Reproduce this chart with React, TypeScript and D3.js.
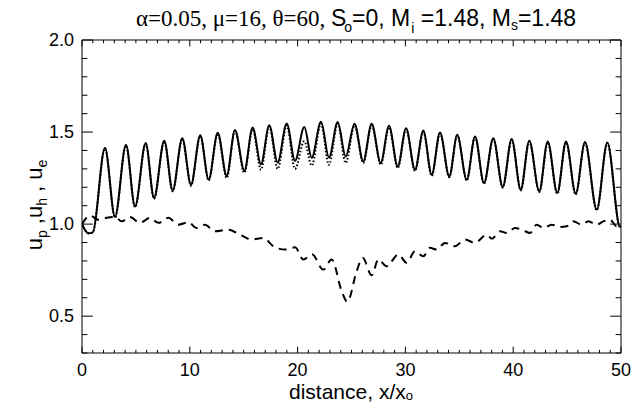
import React from 'react';
import * as d3 from 'd3';

const solidX = [0, 0.6, 1.0, 2.13, 3.06, 4.08, 4.92, 5.91, 6.68, 7.63, 8.41, 9.3, 10.11, 10.97, 11.75, 12.59, 13.42, 14.19, 15.06, 15.83, 16.6, 17.37, 18.15, 18.99, 19.76, 20.62, 21.31, 22.17, 22.91, 23.72, 24.46, 25.28, 26.09, 26.87, 27.71, 28.48, 29.29, 30.06, 30.89, 31.66, 32.44, 33.21, 34.07, 34.81, 35.69, 36.46, 37.29, 38.15, 39.03, 39.86, 40.7, 41.49, 42.42, 43.2, 44.09, 44.9, 45.8, 46.66, 47.75, 48.73, 49.91, 50];
const solidY = [1.0, 0.95, 0.955, 1.415, 1.039, 1.431, 1.096, 1.44, 1.142, 1.453, 1.182, 1.467, 1.214, 1.483, 1.242, 1.496, 1.263, 1.511, 1.29, 1.525, 1.325, 1.537, 1.335, 1.547, 1.344, 1.527, 1.36, 1.556, 1.362, 1.554, 1.367, 1.545, 1.34, 1.545, 1.332, 1.534, 1.313, 1.521, 1.295, 1.508, 1.268, 1.498, 1.259, 1.485, 1.241, 1.476, 1.223, 1.467, 1.202, 1.462, 1.187, 1.453, 1.178, 1.449, 1.169, 1.449, 1.165, 1.446, 1.079, 1.443, 0.985, 0.99];
const dottedY = [1.0, 0.95, 0.955, 1.41, 1.036, 1.426, 1.092, 1.436, 1.138, 1.449, 1.178, 1.462, 1.208, 1.478, 1.236, 1.49, 1.25, 1.505, 1.278, 1.515, 1.295, 1.53, 1.3, 1.535, 1.3, 1.45, 1.318, 1.545, 1.322, 1.545, 1.332, 1.535, 1.332, 1.535, 1.322, 1.525, 1.304, 1.515, 1.288, 1.5, 1.262, 1.492, 1.254, 1.48, 1.237, 1.471, 1.219, 1.462, 1.198, 1.457, 1.183, 1.448, 1.174, 1.444, 1.165, 1.444, 1.161, 1.441, 1.075, 1.44, 0.98, 0.99];
const dashedX = [0, 0.74, 1.51, 2.29, 3.06, 3.68, 4.45, 5.38, 6.31, 7.08, 8.01, 8.93, 9.86, 10.64, 11.41, 12.34, 13.57, 14.66, 15.74, 16.82, 17.75, 18.83, 19.76, 20.53, 21.34, 22.38, 23.16, 24.09, 24.61, 25.48, 26.04, 26.87, 27.49, 28.26, 29.34, 30.12, 30.89, 31.66, 32.28, 32.9, 33.67, 34.6, 35.53, 36.46, 37.54, 38.01, 38.78, 39.4, 40.17, 40.94, 41.56, 42.18, 42.79, 43.57, 44.34, 44.96, 45.58, 46.35, 46.97, 47.75, 48.36, 48.98, 49.6, 50];
const dashedY = [1.0, 1.046, 1.024, 1.034, 1.039, 1.015, 1.039, 1.007, 1.034, 1.007, 1.034, 0.997, 1.01, 0.979, 0.997, 0.961, 0.97, 0.943, 0.916, 0.925, 0.88, 0.862, 0.874, 0.808, 0.837, 0.753, 0.808, 0.636, 0.578, 0.744, 0.817, 0.722, 0.808, 0.771, 0.835, 0.79, 0.853, 0.825, 0.871, 0.862, 0.898, 0.88, 0.916, 0.898, 0.943, 0.92, 0.961, 0.952, 0.979, 0.966, 0.952, 0.997, 0.979, 0.997, 0.985, 0.988, 1.015, 0.997, 1.015, 0.997, 1.015, 1.024, 0.988, 0.997];
const xTickValues = [0, 10, 20, 30, 40, 50];
const yTickValues = [0.5, 1.0, 1.5, 2.0];

const SANS = "'Liberation Sans', Arial, Helvetica, sans-serif";
const SERIF = "'Liberation Serif', 'Times New Roman', serif";

export default function App() {
  const W = 643, H = 409;
  const x = d3.scaleLinear().domain([0, 50]).range([82, 621]);
  const y = d3.scaleLinear().domain([0.3, 2.0]).range([353, 40]);
  const [x0, x1] = x.range();
  const [yb, yt] = y.range();
  const line = d3.line<[number, number]>().x(d => x(d[0])).y(d => y(d[1])).curve(d3.curveMonotoneX);
  const solid = line(solidX.map((v, i) => [v, solidY[i]]) as [number, number][]) || '';
  const dotted = line(solidX.map((v, i) => [v, dottedY[i]]) as [number, number][]) || '';
  const dashed = line(dashedX.map((v, i) => [v, dashedY[i]]) as [number, number][]) || '';
  const xMinor = d3.range(0, 51, 1);
  const yMinor = d3.range(3, 21, 1).map(v => v / 10);
  const xMajLen = 6.3, xMinLen = 3.2, yMajLen = 10.8, yMinLen = 5.4;
  return (
    <svg width={W} height={H} style={{ position: 'absolute', left: 0, top: 0, background: '#fff' }}>
      <defs>
        <clipPath id="plotclip"><rect x={x0} y={yt} width={x1 - x0} height={yb - yt} /></clipPath>
      </defs>
      <rect x={0} y={0} width={W} height={H} fill="#fff" />
      {/* title */}
      <text x={356} y={26} textAnchor="middle" fontSize={23} fill="#000" fontFamily={SANS}>
        <tspan fontFamily={SERIF}>α=0.05, μ=16, θ=60, </tspan>
        <tspan>S</tspan>
        <tspan fontSize={14} dx={-2} dy={6}>o</tspan>
        <tspan dy={-6}>=0, M</tspan>
        <tspan fontSize={14} dx={1} dy={7}>i</tspan>
        <tspan dy={-7}> =1.48, M</tspan>
        <tspan fontSize={14} dy={4}>s</tspan>
        <tspan dy={-4}>=1.48</tspan>
      </text>
      {/* axes box */}
      <g stroke="#000" strokeWidth={1} fill="none">
        <line x1={x0} y1={yb} x2={x1} y2={yb} />
        <line x1={x0} y1={yt} x2={x1} y2={yt} />
        <line x1={x0} y1={yb} x2={x0} y2={yt} />
        <line x1={x1} y1={yb} x2={x1} y2={yt} />
        {xMinor.map(v => {
          const len = v % 10 === 0 ? xMajLen : xMinLen;
          return (
            <g key={'xt' + v}>
              <line x1={x(v)} x2={x(v)} y1={yb} y2={yb - len} />
              <line x1={x(v)} x2={x(v)} y1={yt} y2={yt + len} />
            </g>
          );
        })}
        {yMinor.map(v => {
          const len = Math.round(v * 10) % 5 === 0 ? yMajLen : yMinLen;
          return (
            <g key={'yt' + v}>
              <line x1={x0} x2={x0 + len} y1={y(v)} y2={y(v)} />
              <line x1={x1} x2={x1 - len} y1={y(v)} y2={y(v)} />
            </g>
          );
        })}
      </g>
      {/* tick labels */}
      <g fontFamily={SANS} fontSize={18} fill="#000">
        {xTickValues.map(v => (
          <text key={'xl' + v} x={x(v)} y={yb + 23} textAnchor="middle">{String(v)}</text>
        ))}
        {yTickValues.map(v => (
          <text key={'yl' + v} x={x0 - 8} y={y(v) + 6} textAnchor="end">{v.toFixed(1)}</text>
        ))}
      </g>
      {/* axis titles */}
      <text x={351} y={399} textAnchor="middle" fontFamily={SANS} fontSize={21} fill="#000">
        distance, x/x<tspan fontSize={13} dy={1}>o</tspan>
      </text>
      <text transform="translate(42,205) rotate(-90)" textAnchor="middle" fontFamily={SANS} fontSize={22} fill="#000">
        u<tspan fontSize={14} dy={5}>p</tspan>
        <tspan dy={-5}> ,u</tspan>
        <tspan fontSize={14} dy={5}>h</tspan>
        <tspan dy={-5}> , u</tspan>
        <tspan fontSize={14} dy={5}>e</tspan>
      </text>
      {/* curves */}
      <g clipPath="url(#plotclip)" fill="none" stroke="#000">
        <path d={dashed} strokeWidth={2} strokeDasharray="8,6" />
        <path d={dotted} strokeWidth={2} strokeDasharray="1.5,2" />
        <path d={solid} strokeWidth={2} />
      </g>
    </svg>
  );
}
